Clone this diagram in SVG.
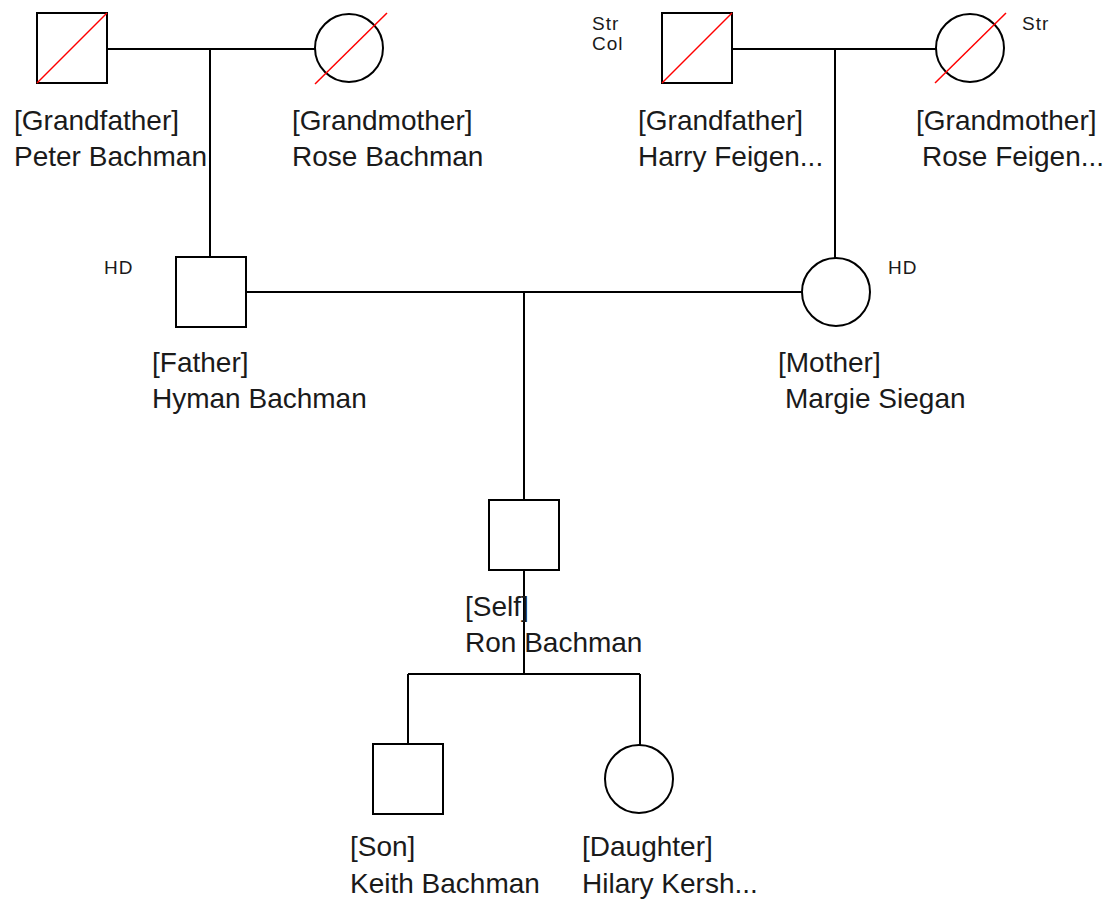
<svg xmlns="http://www.w3.org/2000/svg" width="1111" height="899" viewBox="0 0 1111 899">
<style>
.shape{fill:#fff;stroke:#000;stroke-width:2}
.dec{stroke:#f00;stroke-width:1.5;fill:none}
.ln{stroke:#000;stroke-width:2;fill:none}
.lbl{font-family:"Liberation Sans",Arial,sans-serif;font-size:28px;fill:#1a1a1a}
.sm{font-family:"Liberation Sans",Arial,sans-serif;font-size:19px;fill:#1a1a1a;letter-spacing:1px}
</style>
<rect width="1111" height="899" fill="#fff"/>
<g id="connectors">
<path class="ln" d="M107 49H315M210 49V257"/>
<path class="ln" d="M731 49H936M835 49V258"/>
<path class="ln" d="M246 292H802M524 292V500"/>
<path class="ln" d="M524 570V674M408 674H640M408 674V744M640 674V745"/>
</g>
<g id="gf-peter">
<rect class="shape" x="37" y="13" width="70" height="70"/>
<line class="dec" x1="37" y1="83" x2="107" y2="13"/>
<text class="lbl" x="14" y="130">[Grandfather]</text>
<text class="lbl" x="14" y="166">Peter Bachman</text>
</g>
<g id="gm-rose-b">
<circle class="shape" cx="349" cy="48" r="34"/>
<line class="dec" x1="315" y1="84" x2="387" y2="13"/>
<text class="lbl" x="292" y="130">[Grandmother]</text>
<text class="lbl" x="292" y="166">Rose Bachman</text>
</g>
<g id="gf-harry">
<rect class="shape" x="662" y="13" width="70" height="70"/>
<line class="dec" x1="662" y1="83" x2="732" y2="13"/>
<text class="sm" x="592" y="30">Str</text>
<text class="sm" x="592" y="50">Col</text>
<text class="lbl" x="638" y="130">[Grandfather]</text>
<text class="lbl" x="638" y="166">Harry Feigen...</text>
</g>
<g id="gm-rose-f">
<circle class="shape" cx="970" cy="48" r="34"/>
<line class="dec" x1="935" y1="83" x2="1006" y2="13"/>
<text class="sm" x="1022" y="30">Str</text>
<text class="lbl" x="916" y="130">[Grandmother]</text>
<text class="lbl" x="922" y="166">Rose Feigen...</text>
</g>
<g id="father">
<rect class="shape" x="176" y="257" width="70" height="70"/>
<text class="sm" x="104" y="274">HD</text>
<text class="lbl" x="152" y="372">[Father]</text>
<text class="lbl" x="152" y="408">Hyman Bachman</text>
</g>
<g id="mother">
<circle class="shape" cx="836" cy="292" r="34"/>
<text class="sm" x="888" y="274">HD</text>
<text class="lbl" x="778" y="372">[Mother]</text>
<text class="lbl" x="785" y="408">Margie Siegan</text>
</g>
<g id="self">
<rect class="shape" x="489" y="500" width="70" height="70"/>
<text class="lbl" x="465" y="616">[Self]</text>
<text class="lbl" x="465" y="652">Ron Bachman</text>
</g>
<g id="son">
<rect class="shape" x="373" y="744" width="70" height="70"/>
<text class="lbl" x="350" y="856">[Son]</text>
<text class="lbl" x="350" y="893">Keith Bachman</text>
</g>
<g id="daughter">
<circle class="shape" cx="639" cy="779" r="34"/>
<text class="lbl" x="582" y="856">[Daughter]</text>
<text class="lbl" x="582" y="893">Hilary Kersh...</text>
</g>
</svg>
